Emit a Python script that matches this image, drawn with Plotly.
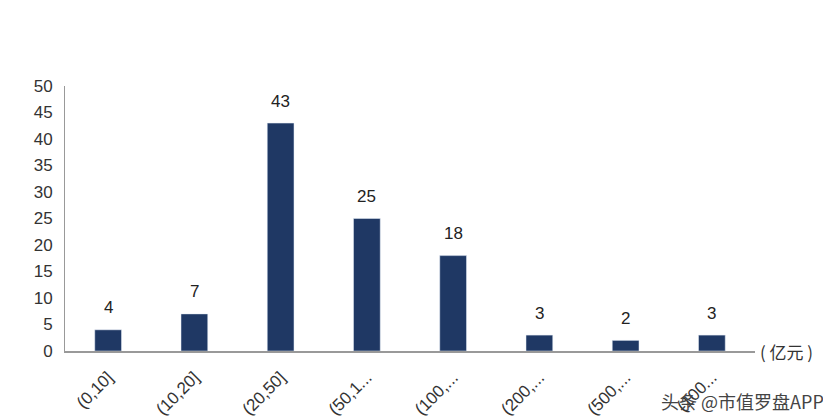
import plotly.graph_objects as go

categories = ["(0,10]", "(10,20]", "(20,50]", "(50,1...", "(100,...", "(200,...", "(500,...", "(100..."]
values = [4, 7, 43, 25, 18, 3, 2, 3]

fig = go.Figure(go.Bar(x=categories, y=values, marker_color="#1f3864", width=0.31))
for c, v in zip(categories, values):
    fig.add_annotation(x=c, y=v, text=str(v), showarrow=False, yshift=22,
                       font=dict(size=17, color="#222", family="Liberation Sans"))
fig.update_layout(
    width=831, height=418, margin=dict(l=57, r=84, t=78, b=75, autoexpand=False),
    plot_bgcolor="white", paper_bgcolor="white", showlegend=False,
    font=dict(family="Liberation Sans", size=16, color="#333"),
)
fig.update_xaxes(showline=True, linecolor="#999", linewidth=1.5, tickangle=-45, automargin=False,
                 ticks="outside", ticklen=8, tickcolor="white", tickfont=dict(size=17), type="category")
fig.update_yaxes(range=[0, 50], dtick=5, showgrid=False, showline=True, linecolor="#999", automargin=False,
                 linewidth=1, ticks="outside", ticklen=8, tickcolor="white", tickfont=dict(size=17), zeroline=False)
fig.add_annotation(x=1.005, y=0, xref="paper", yref="paper", text="( 亿元 )", showarrow=False,
                   xanchor="left", yanchor="middle", font=dict(size=17, family="Noto Sans CJK SC", color="#333"))
fig.add_annotation(x=(818 - 57) / 690, y=(343 - 393) / 265, xref="paper", yref="paper",
                   text="头条 @市值罗盘APP", showarrow=False, xanchor="right", yanchor="middle",
                   font=dict(size=18, family="Noto Sans CJK SC", color="#444"))
fig.write_html("out.html")
